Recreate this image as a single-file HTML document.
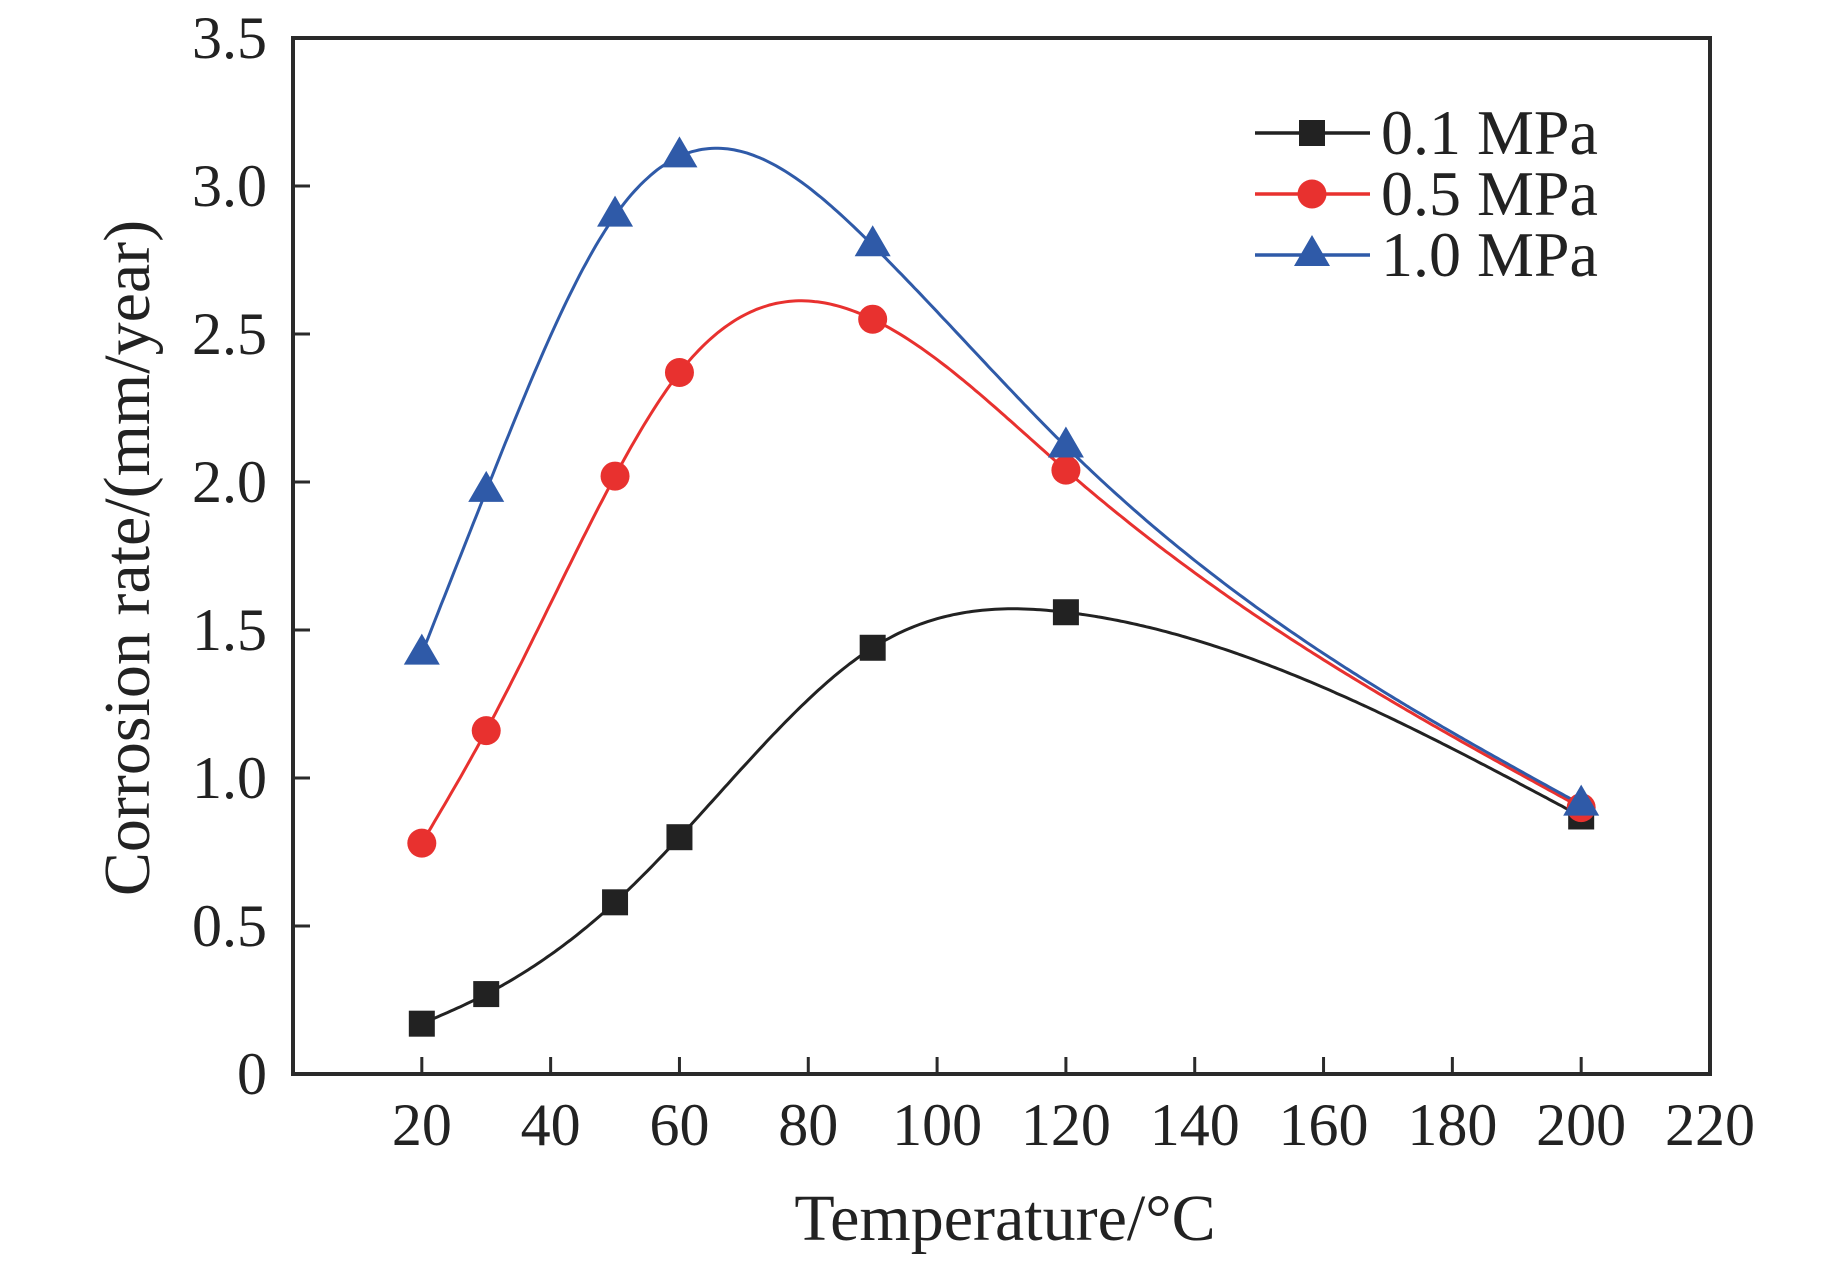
<!DOCTYPE html>
<html><head><meta charset="utf-8"><style>
html,body{margin:0;padding:0;background:#fff;}
svg{display:block;font-family:"Liberation Serif",serif;}
</style></head><body>
<svg id="chart" width="1843" height="1261" viewBox="0 0 1843 1261" xmlns="http://www.w3.org/2000/svg">
<g id="plot"></g>
<g id="axes"></g>
<text x="1005" y="1240" font-size="66" text-anchor="middle" fill="#222">Temperature/°C</text>
<text transform="translate(149,558) rotate(-90)" font-size="66" text-anchor="middle" fill="#222">Corrosion rate/(mm/year)</text>
<g id="legend"></g>
</svg>
<script>
const temps = [20, 30, 50, 60, 90, 120, 200];
const rate01 = [0.17, 0.27, 0.58, 0.80, 1.44, 1.56, 0.87];
const rate05 = [0.78, 1.16, 2.02, 2.37, 2.55, 2.04, 0.90];
const rate10 = [1.42, 1.97, 2.90, 3.10, 2.80, 2.12, 0.91];
const seriesNames = ["0.1 MPa", "0.5 MPa", "1.0 MPa"];
const xTicks = [20, 40, 60, 80, 100, 120, 140, 160, 180, 200, 220];
const yTicks = [0, 0.5, 1.0, 1.5, 2.0, 2.5, 3.0, 3.5];
const yTickLabels = ["0", "0.5", "1.0", "1.5", "2.0", "2.5", "3.0", "3.5"];

const L=293, R=1710, T=38, B=1074;
const xMin=0, xMax=220, yMin=0, yMax=3.5;
const sx = v => L + (v-xMin)/(xMax-xMin)*(R-L);
const sy = v => B - (v-yMin)/(yMax-yMin)*(B-T);
const NS="http://www.w3.org/2000/svg";
function mk(tag, attrs, parent){const e=document.createElementNS(NS,tag);for(const k in attrs)e.setAttribute(k,attrs[k]);parent.appendChild(e);return e;}

function spline(xs, ys){
  const n=xs.length, h=[], a=[], l=[1], mu=[0], z=[0], c=new Array(n).fill(0), b=[], d=[];
  for(let i=0;i<n-1;i++) h.push(xs[i+1]-xs[i]);
  for(let i=1;i<n-1;i++) a[i]=3/h[i]*(ys[i+1]-ys[i])-3/h[i-1]*(ys[i]-ys[i-1]);
  for(let i=1;i<n-1;i++){l[i]=2*(xs[i+1]-xs[i-1])-h[i-1]*mu[i-1];mu[i]=h[i]/l[i];z[i]=(a[i]-h[i-1]*z[i-1])/l[i];}
  for(let j=n-2;j>=0;j--){c[j]=(j<n-1?z[j]:0)-mu[j]*c[j+1];b[j]=(ys[j+1]-ys[j])/h[j]-h[j]*(c[j+1]+2*c[j])/3;d[j]=(c[j+1]-c[j])/(3*h[j]);}
  return t=>{let i=0;while(i<n-2&&t>xs[i+1])i++;const dx=t-xs[i];return ys[i]+b[i]*dx+c[i]*dx*dx+d[i]*dx*dx*dx;};
}

const plot=document.getElementById('plot');
const axes=document.getElementById('axes');
const legend=document.getElementById('legend');
const colors=["#222222","#e8312f","#2f5aa8"];
const shapes=["square","circle","triangle"];
const allData=[rate01,rate05,rate10];

function marker(shape,cx,cy,color,parent){
  let e;
  if(shape==="square") e=mk('rect',{x:cx-13,y:cy-13,width:26,height:26,fill:color},parent);
  else if(shape==="circle") e=mk('circle',{cx:cx,cy:cy,r:14.5,fill:color},parent);
  else e=mk('polygon',{points:`${cx},${cy-20} ${cx+18},${cy+11} ${cx-18},${cy+11}`,fill:color},parent);
  return e;
}

allData.forEach((vals,si)=>{
  const f=spline(temps,vals);
  let d="";
  for(let t=temps[0];t<=temps[temps.length-1]+0.001;t+=0.5){d+=(d?"L":"M")+sx(t).toFixed(1)+","+sy(f(t)).toFixed(1);}
  const p=mk('path',{d:d,fill:"none",stroke:colors[si],"stroke-width":3},plot);
  
  
});
allData.forEach((vals,si)=>{
  vals.forEach((v,i)=>{
    const m=marker(shapes[si],sx(temps[i]),sy(v),colors[si],plot);
    
    
  });
});

const fr=mk('rect',{x:L,y:T,width:R-L,height:B-T,fill:"none",stroke:"#2a2a2a","stroke-width":4},axes);


xTicks.forEach(v=>{
  const x=sx(v);
  const tk=mk('line',{x1:x,y1:B,x2:x,y2:B-17,stroke:"#2a2a2a","stroke-width":3},axes);
  
  
  const tx=mk('text',{x:x,y:1145,"font-size":60,"text-anchor":"middle",fill:"#222"},axes);
  tx.textContent=String(v);
  
  
});
yTicks.forEach((v,i)=>{
  const y=sy(v);
  const tk=mk('line',{x1:L,y1:y,x2:L+17,y2:y,stroke:"#2a2a2a","stroke-width":3},axes);
  
  
  const tx=mk('text',{x:267,y:y+20,"font-size":60,"text-anchor":"end",fill:"#222"},axes);
  tx.textContent=yTickLabels[i];
  
  
});

seriesNames.forEach((nm,si)=>{
  const y=133+si*61;
  const ln=mk('line',{x1:1255,y1:y,x2:1370,y2:y,stroke:colors[si],"stroke-width":3.5},legend);
  
  
  const m=marker(shapes[si],1312,y,colors[si],legend);
  
  
  const tx=mk('text',{x:1381,y:y+21,"font-size":64,fill:"#222"},legend);
  tx.textContent=nm;
  
  
});
</script>
</body></html>
